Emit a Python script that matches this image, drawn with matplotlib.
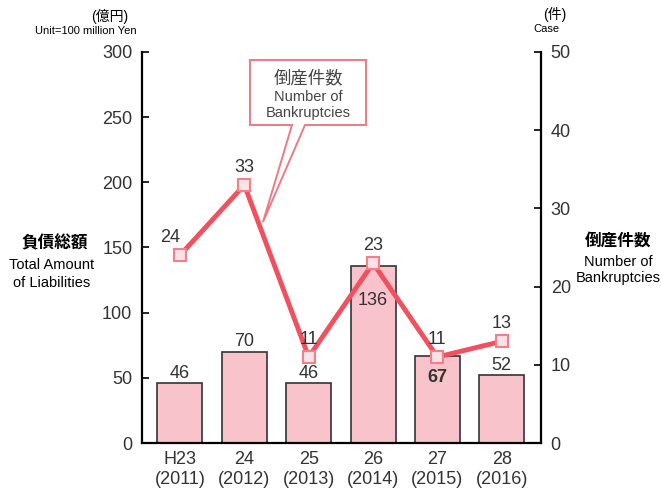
import matplotlib.pyplot as plt
from matplotlib.patches import Polygon

plt.rcParams["font.family"] = ["Liberation Sans", "Noto Sans CJK JP", "DejaVu Sans"]

years = ["H23\n(2011)", "24\n(2012)", "25\n(2013)", "26\n(2014)", "27\n(2015)", "28\n(2016)"]
liabilities = [46, 70, 46, 136, 67, 52]
bankruptcies = [24, 33, 11, 23, 11, 13]

BAR_FILL = "#f9c3cb"
LINE_COLOR = "#f2505e"
TEXT = "#333333"
W, H = 661, 488

fig = plt.figure(figsize=(6.61, 4.88), dpi=100)
ax = fig.add_axes([142 / W, 1 - 443 / H, (541 - 142) / W, (443 - 52) / H])
x = range(len(years))

ax.bar(x, liabilities, width=0.70, color=BAR_FILL, edgecolor="#333333", linewidth=1.2, zorder=2)
ax.set_xlim(-0.59, 5.61)
ax.set_ylim(0, 300)
ax.set_yticks(range(0, 301, 50))
ax.set_xticks(list(x))
ax.set_xticklabels(years, fontsize=13, linespacing=1.2, color=TEXT)
ax.tick_params(axis="y", direction="in", length=5, width=1.2, labelsize=13, pad=7, labelcolor=TEXT)
ax.tick_params(axis="x", length=0, pad=6)
for side in ["left", "bottom"]:
    ax.spines[side].set_linewidth(1.6)
ax.spines["top"].set_visible(False)
ax.spines["right"].set_visible(False)

# bar value labels
for i, v in enumerate(liabilities):
    if v > 100:
        ax.text(i, v - 20, str(v), ha="center", va="top", fontsize=13, color=TEXT, zorder=5)
    elif i == 4:
        ax.text(i, v - 10, str(v), ha="center", va="top", fontsize=13, color=TEXT,
                fontweight="bold", zorder=5)
    else:
        ax.text(i, v + 1, str(v), ha="center", va="bottom", fontsize=13, color=TEXT, zorder=5)

ax2 = ax.twinx()
ax2.set_ylim(0, 50)
ax2.set_yticks(range(0, 51, 10))
ax2.tick_params(axis="y", direction="in", length=5, width=1.2, labelsize=13, pad=7, labelcolor=TEXT)
ax2.spines["right"].set_linewidth(1.6)
ax2.spines["top"].set_visible(False)
ax2.spines["left"].set_visible(False)
ax2.spines["bottom"].set_visible(False)
ax2.plot(x, bankruptcies, color=LINE_COLOR, linewidth=3.5, marker="s", markersize=8,
         markerfacecolor="#fde3e6", markeredgecolor="#f47f8a", markeredgewidth=1.5, zorder=3)

for i, v in enumerate(bankruptcies):
    dx = -0.15 if i == 0 else 0
    ax2.text(i + dx, v + 1.2, str(v), ha="center", va="bottom", fontsize=13, color=TEXT, zorder=5)

# callout with tail
box = [(250, 60), (366, 60), (366, 125), (305, 125), (263, 222), (292, 125), (250, 125)]
poly = Polygon([(px / W, 1 - py / H) for px, py in box], closed=True, transform=fig.transFigure,
               facecolor="white", edgecolor="#ee7a86", linewidth=1.4, zorder=1)
fig.patches.append(poly)
fig.text(308 / W, 1 - 78 / H, "倒産件数", ha="center", va="center", fontsize=12.5, color="#444444", zorder=11)
fig.text(308 / W, 1 - 105 / H, "Number of\nBankruptcies", ha="center", va="center",
         fontsize=10.5, color="#444444", linespacing=1.15, zorder=11)

# axis titles
fig.text(55 / W, 1 - 243 / H, "負債総額", ha="center", va="center", fontsize=12, fontweight="bold")
fig.text(52 / W, 1 - 274 / H, "Total Amount\nof Liabilities", ha="center", va="center",
         fontsize=10.5, linespacing=1.35)
fig.text(618 / W, 1 - 241 / H, "倒産件数", ha="center", va="center", fontsize=12, fontweight="bold")
fig.text(618 / W, 1 - 270 / H, "Number of\nBankruptcies", ha="center", va="center",
         fontsize=10.5, linespacing=1.2)

# units
fig.text(110 / W, 1 - 16 / H, "(億円)", ha="center", va="center", fontsize=10)
fig.text(86 / W, 1 - 31 / H, "Unit=100 million Yen", ha="center", va="center", fontsize=8)
fig.text(555 / W, 1 - 14 / H, "(件)", ha="center", va="center", fontsize=10)
fig.text(546 / W, 1 - 29 / H, "Case", ha="center", va="center", fontsize=8)

fig.savefig("out.png", dpi=100)
